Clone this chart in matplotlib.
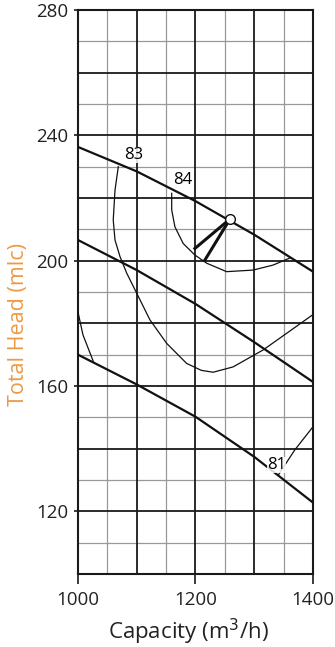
import numpy as np
import matplotlib.pyplot as plt

plt.rcParams['font.family'] = ['Open Sans', 'DejaVu Sans']

# head curves (capacity m3/h, head m)
q_head = [1000, 1100, 1200, 1300, 1400]
head_top = [236.3, 228.5, 219.0, 208.3, 196.5]
head_mid = [206.6, 197.0, 186.2, 174.0, 161.3]
head_low = [170.0, 160.5, 150.2, 137.4, 122.8]

# efficiency contours
q_83 = [1068.6, 1063, 1060, 1063, 1071.5, 1083, 1100, 1122.5, 1151, 1185,
        1210, 1230, 1264, 1315, 1355, 1400]
h_83 = [230.0, 222.5, 213.0, 206.6, 201.3, 196.0, 189.6, 181.1, 173.6, 167.2,
        165.0, 164.4, 166.1, 171.5, 176.8, 182.8]
q_84 = [1159.5, 1159.5, 1165, 1179, 1199, 1219, 1253, 1298, 1332, 1360]
h_84 = [221.5, 216.2, 210.8, 205.5, 201.8, 199.2, 196.5, 197.0, 198.6, 200.8]
q_81a = [1000, 1008.5, 1026]
h_81a = [183.6, 176.3, 167.9]
q_81b = [1341, 1369, 1400]
h_81b = [131.6, 139.6, 147.0]

# best efficiency point and pointer lines
bep = (1258.7, 213.3)
ptr_q = [1199, 1216]
ptr_h = [203.9, 200.2]

labels = [("83", 1094, 233.7), ("84", 1179, 225.9), ("81", 1338, 134.8)]

fig = plt.figure(figsize=(3.35, 6.47), dpi=100)
ax = fig.add_axes([0.2328, 0.1128, 0.7015, 0.8717])
ax.set_xlim(1000, 1400)
ax.set_ylim(100, 280)

for x in np.arange(1050, 1400, 100):
    ax.axvline(x, color='#999999', lw=0.9, zorder=1)
for y in np.arange(110, 280, 20):
    ax.axhline(y, color='#999999', lw=0.9, zorder=1)
for x in np.arange(1100, 1400, 100):
    ax.axvline(x, color='#1a1a1a', lw=1.3, zorder=1)
for y in np.arange(120, 280, 20):
    ax.axhline(y, color='#1a1a1a', lw=1.3, zorder=1)

for s in ax.spines.values():
    s.set_linewidth(1.5)
    s.set_color('#1a1a1a')

k = dict(color='#111111', lw=1.6, zorder=3, solid_capstyle='butt')
ax.plot(q_head, head_top, **k)
ax.plot(q_head, head_mid, **k)
ax.plot(q_head, head_low, **k)

t = dict(color='#111111', lw=0.9, zorder=3)
ax.plot(q_83, h_83, **t)
ax.plot(q_84, h_84, **t)
ax.plot(q_81a, h_81a, **t)
ax.plot(q_81b, h_81b, **t)

for pq, ph in zip(ptr_q, ptr_h):
    ax.plot([bep[0], pq], [bep[1], ph], color='#111111', lw=2.2, zorder=4)
ax.plot(*bep, marker='o', ms=7, mfc='white', mec='#111111', mew=1.0, zorder=5)

for txt, x, y in labels:
    ax.text(x, y, txt, fontsize=12, ha='center', va='center', zorder=6,
            bbox=dict(fc='white', ec='none', pad=0.1, alpha=0.85))

ax.set_xticks([1000, 1200, 1400])
ax.set_yticks([120, 160, 200, 240, 280])
ax.tick_params(axis='both', labelsize=13.5, width=1.2, color='#1a1a1a',
               labelcolor='#222222')
ax.tick_params(axis='x', length=7, pad=5)
ax.tick_params(axis='y', length=3, pad=4)

ax.set_xlabel('Capacity (m$^3$/h)', fontsize=16, color='#222222', labelpad=5)
ax.xaxis.set_label_coords(0.47, -0.075)
ax.set_ylabel('Total Head (mlc)', fontsize=15.5, color='#ec9a45')
ax.yaxis.set_label_coords(-0.21, 0.443)

fig.savefig('out.png', dpi=100)
